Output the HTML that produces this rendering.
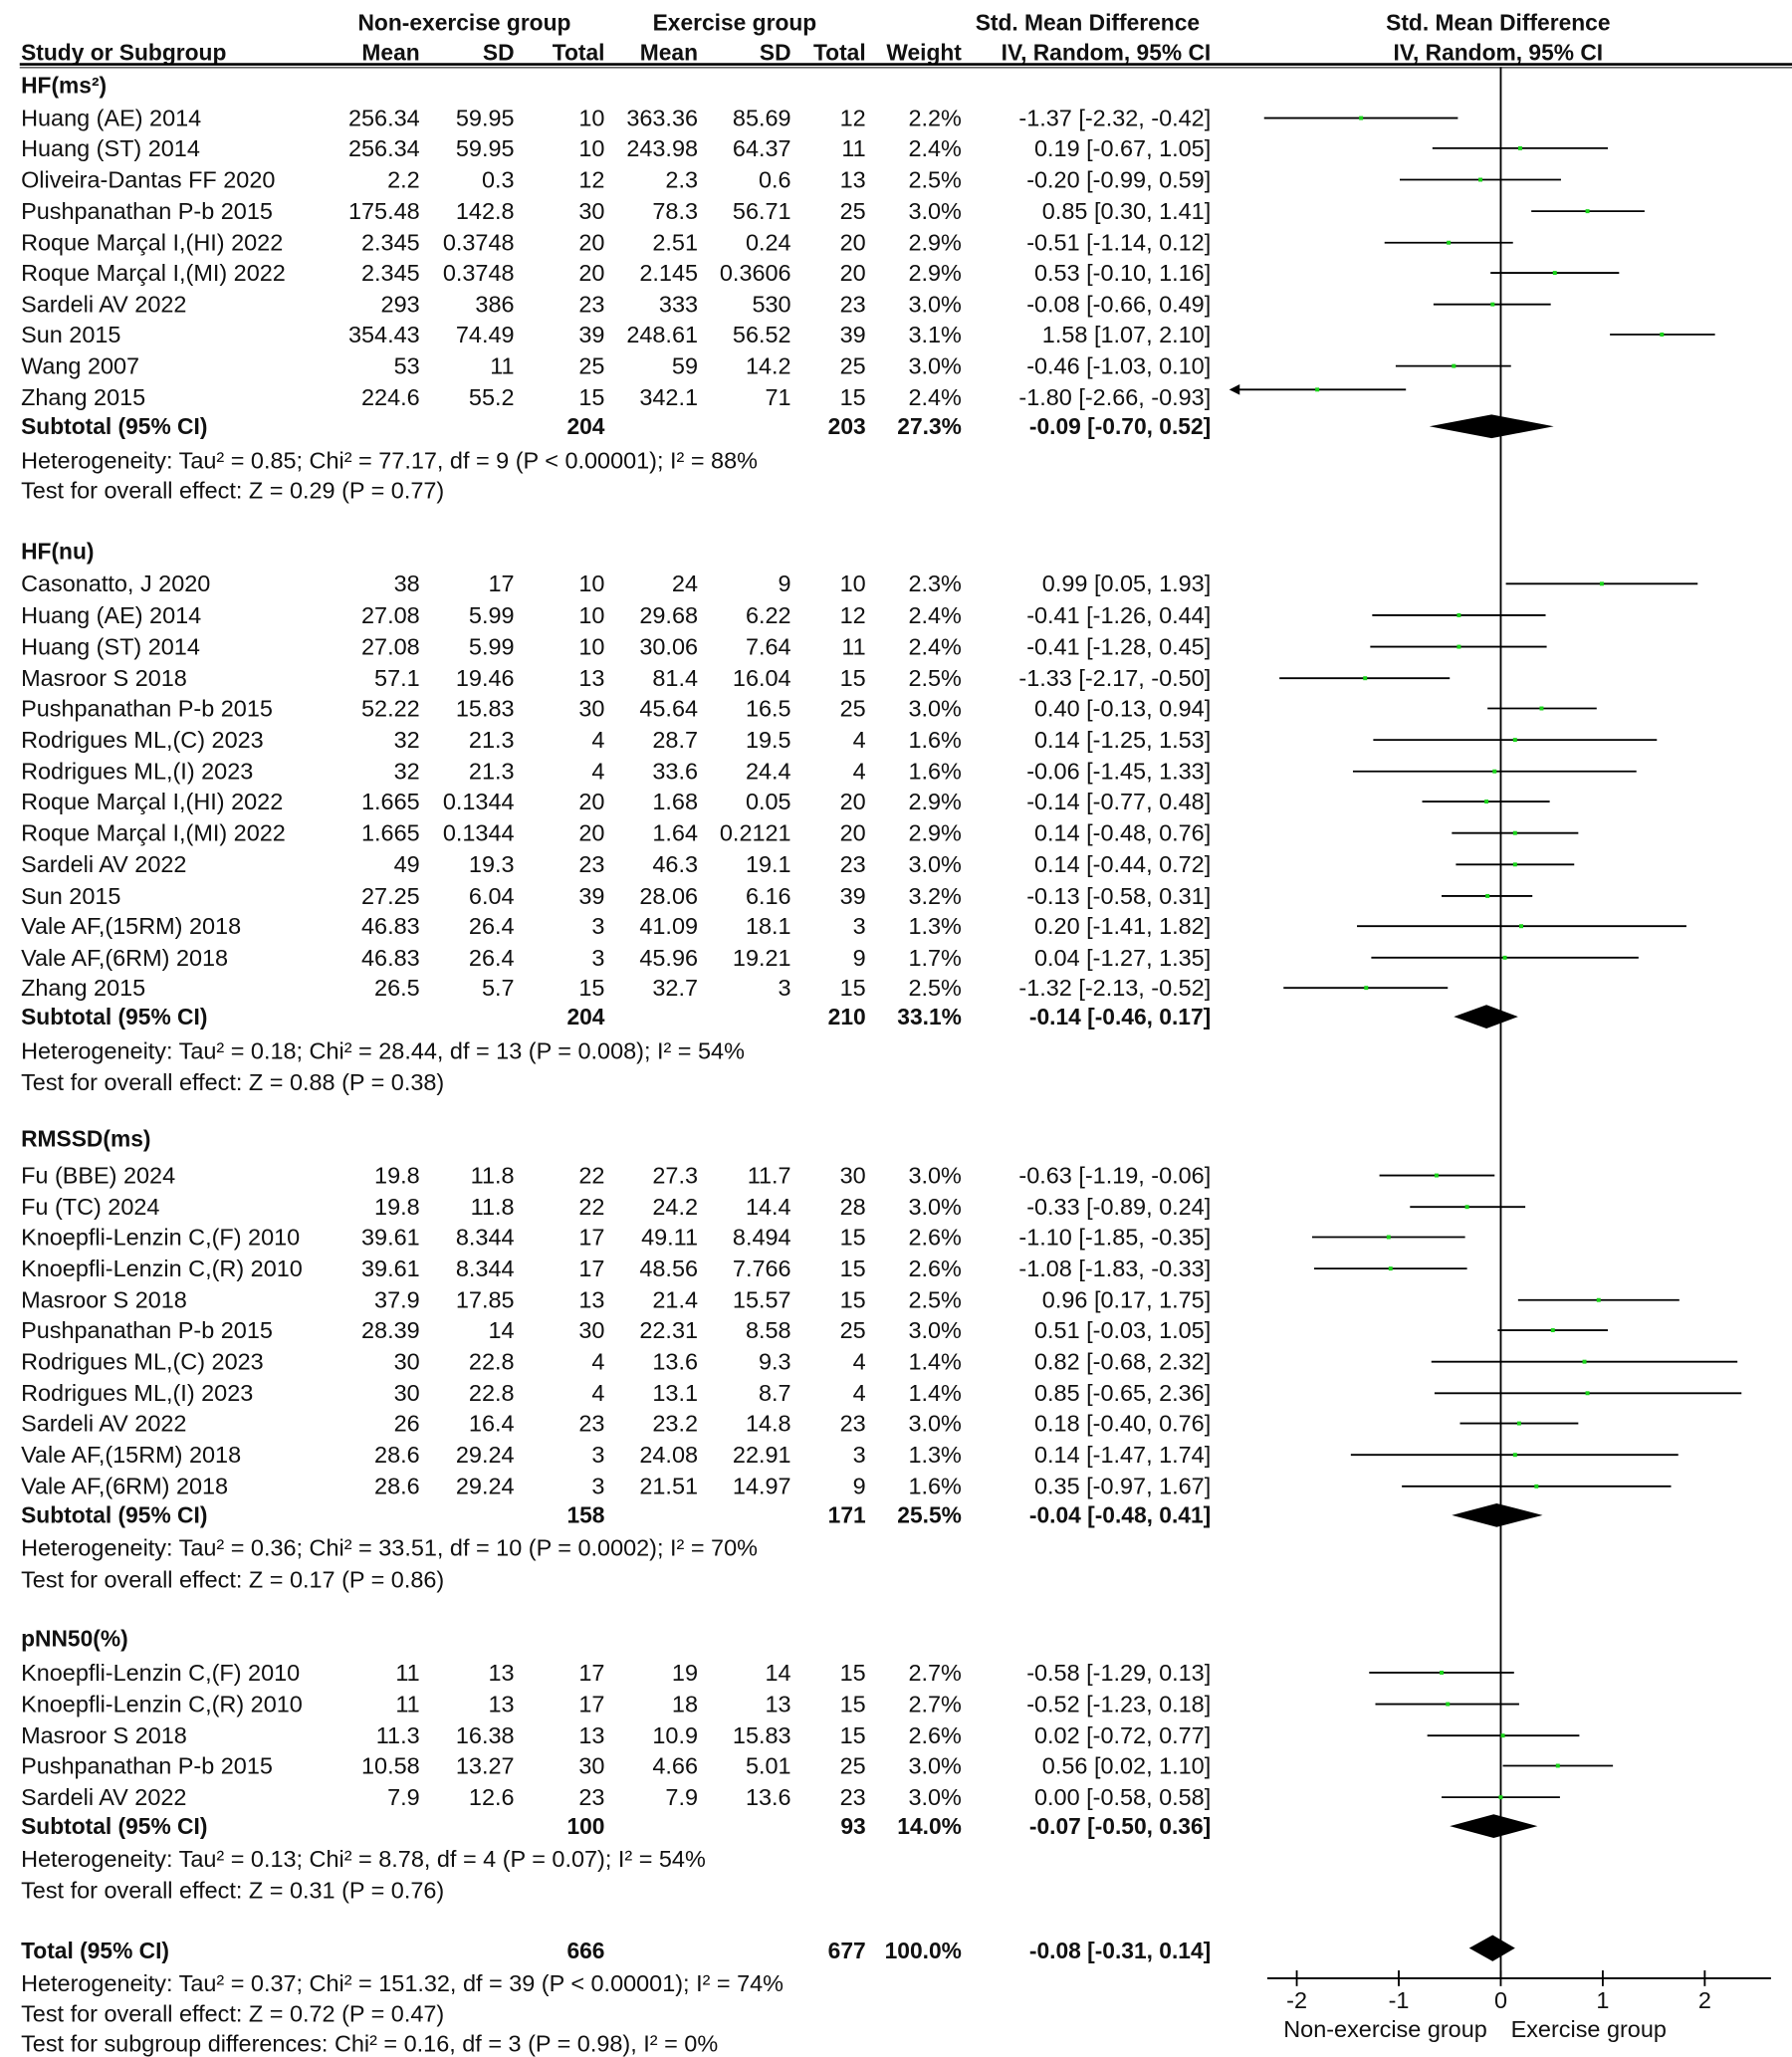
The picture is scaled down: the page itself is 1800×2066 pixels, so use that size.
<!DOCTYPE html>
<html><head><meta charset="utf-8"><style>
html,body{margin:0;padding:0;background:#fff;}
svg{display:block}
text{font-family:"Liberation Sans",Arial,sans-serif;font-size:17.8px;fill:#111}
.r{text-anchor:end}.c{text-anchor:middle}.b{font-weight:bold;font-size:17.3px}
line{stroke:#000;stroke-width:1.4}
.p{fill:#1bd41b}
</style></head><body>
<svg width="1800" height="2066" viewBox="0 0 1366 1568" preserveAspectRatio="none" xmlns="http://www.w3.org/2000/svg">
<!-- header -->
<g class="b">
<text class="c b" x="354" y="23">Non-exercise group</text>
<text class="c b" x="560" y="23">Exercise group</text>
<text class="c b" x="829" y="23">Std. Mean Difference</text>
<text class="c b" x="1142" y="23">Std. Mean Difference</text>
<text class="b" x="16" y="46">Study or Subgroup</text>
<text class="r b" x="320" y="46">Mean</text><text class="r b" x="392" y="46">SD</text><text class="r b" x="461" y="46">Total</text>
<text class="r b" x="532" y="46">Mean</text><text class="r b" x="603" y="46">SD</text><text class="r b" x="660" y="46">Total</text>
<text class="r b" x="733" y="46">Weight</text><text class="r b" x="923" y="46">IV, Random, 95% CI</text>
<text class="c b" x="1142" y="46">IV, Random, 95% CI</text>
</g>
<line x1="15" y1="49" x2="1366" y2="49" style="stroke-width:2"/>
<line x1="15" y1="51.5" x2="1366" y2="51.5" style="stroke-width:0.8"/>
<line x1="1144" y1="51" x2="1144" y2="1508"/>
<!-- axis -->
<line x1="966" y1="1508" x2="1350" y2="1508"/>
<line x1="988.5" y1="1502" x2="988.5" y2="1514"/><line x1="1066.25" y1="1502" x2="1066.25" y2="1514"/><line x1="1144" y1="1502" x2="1144" y2="1514"/><line x1="1221.75" y1="1502" x2="1221.75" y2="1514"/><line x1="1299.5" y1="1502" x2="1299.5" y2="1514"/>
<text class="c" x="988.5" y="1531">-2</text><text class="c" x="1066.25" y="1531">-1</text><text class="c" x="1144" y="1531">0</text><text class="c" x="1221.75" y="1531">1</text><text class="c" x="1299.5" y="1531">2</text>
<text class="c" x="1056" y="1553">Non-exercise group</text><text class="c" x="1211" y="1553">Exercise group</text>

<!-- HF ms -->
<text class="b" x="16" y="71">HF(ms²)</text>
<g>
<text x="16" y="96">Huang (AE) 2014</text><text class="r" x="320" y="96">256.34</text><text class="r" x="392" y="96">59.95</text><text class="r" x="461" y="96">10</text><text class="r" x="532" y="96">363.36</text><text class="r" x="603" y="96">85.69</text><text class="r" x="660" y="96">12</text><text class="r" x="733" y="96">2.2%</text><text class="r" x="923" y="96">-1.37 [-2.32, -0.42]</text>
<text x="16" y="119">Huang (ST) 2014</text><text class="r" x="320" y="119">256.34</text><text class="r" x="392" y="119">59.95</text><text class="r" x="461" y="119">10</text><text class="r" x="532" y="119">243.98</text><text class="r" x="603" y="119">64.37</text><text class="r" x="660" y="119">11</text><text class="r" x="733" y="119">2.4%</text><text class="r" x="923" y="119">0.19 [-0.67, 1.05]</text>
<text x="16" y="143">Oliveira-Dantas FF 2020</text><text class="r" x="320" y="143">2.2</text><text class="r" x="392" y="143">0.3</text><text class="r" x="461" y="143">12</text><text class="r" x="532" y="143">2.3</text><text class="r" x="603" y="143">0.6</text><text class="r" x="660" y="143">13</text><text class="r" x="733" y="143">2.5%</text><text class="r" x="923" y="143">-0.20 [-0.99, 0.59]</text>
<text x="16" y="167">Pushpanathan P-b 2015</text><text class="r" x="320" y="167">175.48</text><text class="r" x="392" y="167">142.8</text><text class="r" x="461" y="167">30</text><text class="r" x="532" y="167">78.3</text><text class="r" x="603" y="167">56.71</text><text class="r" x="660" y="167">25</text><text class="r" x="733" y="167">3.0%</text><text class="r" x="923" y="167">0.85 [0.30, 1.41]</text>
<text x="16" y="191">Roque Marçal I,(HI) 2022</text><text class="r" x="320" y="191">2.345</text><text class="r" x="392" y="191">0.3748</text><text class="r" x="461" y="191">20</text><text class="r" x="532" y="191">2.51</text><text class="r" x="603" y="191">0.24</text><text class="r" x="660" y="191">20</text><text class="r" x="733" y="191">2.9%</text><text class="r" x="923" y="191">-0.51 [-1.14, 0.12]</text>
<text x="16" y="214">Roque Marçal I,(MI) 2022</text><text class="r" x="320" y="214">2.345</text><text class="r" x="392" y="214">0.3748</text><text class="r" x="461" y="214">20</text><text class="r" x="532" y="214">2.145</text><text class="r" x="603" y="214">0.3606</text><text class="r" x="660" y="214">20</text><text class="r" x="733" y="214">2.9%</text><text class="r" x="923" y="214">0.53 [-0.10, 1.16]</text>
<text x="16" y="238">Sardeli AV 2022</text><text class="r" x="320" y="238">293</text><text class="r" x="392" y="238">386</text><text class="r" x="461" y="238">23</text><text class="r" x="532" y="238">333</text><text class="r" x="603" y="238">530</text><text class="r" x="660" y="238">23</text><text class="r" x="733" y="238">3.0%</text><text class="r" x="923" y="238">-0.08 [-0.66, 0.49]</text>
<text x="16" y="261">Sun 2015</text><text class="r" x="320" y="261">354.43</text><text class="r" x="392" y="261">74.49</text><text class="r" x="461" y="261">39</text><text class="r" x="532" y="261">248.61</text><text class="r" x="603" y="261">56.52</text><text class="r" x="660" y="261">39</text><text class="r" x="733" y="261">3.1%</text><text class="r" x="923" y="261">1.58 [1.07, 2.10]</text>
<text x="16" y="285">Wang 2007</text><text class="r" x="320" y="285">53</text><text class="r" x="392" y="285">11</text><text class="r" x="461" y="285">25</text><text class="r" x="532" y="285">59</text><text class="r" x="603" y="285">14.2</text><text class="r" x="660" y="285">25</text><text class="r" x="733" y="285">3.0%</text><text class="r" x="923" y="285">-0.46 [-1.03, 0.10]</text>
<text x="16" y="309">Zhang 2015</text><text class="r" x="320" y="309">224.6</text><text class="r" x="392" y="309">55.2</text><text class="r" x="461" y="309">15</text><text class="r" x="532" y="309">342.1</text><text class="r" x="603" y="309">71</text><text class="r" x="660" y="309">15</text><text class="r" x="733" y="309">2.4%</text><text class="r" x="923" y="309">-1.80 [-2.66, -0.93]</text>
<text class="b" x="16" y="331">Subtotal (95% CI)</text><text class="r b" x="461" y="331">204</text><text class="r b" x="660" y="331">203</text><text class="r b" x="733" y="331">27.3%</text><text class="r b" x="923" y="331">-0.09 [-0.70, 0.52]</text>
<text x="16" y="357">Heterogeneity: Tau² = 0.85; Chi² = 77.17, df = 9 (P &lt; 0.00001); I² = 88%</text>
<text x="16" y="380">Test for overall effect: Z = 0.29 (P = 0.77)</text>
<line x1="963.6" y1="90" x2="1111.3" y2="90"/><rect class="p" x="1036" y="88.5" width="3" height="3"/>
<line x1="1091.9" y1="113" x2="1225.6" y2="113"/><rect class="p" x="1157.3" y="111.5" width="3" height="3"/>
<line x1="1067" y1="137" x2="1189.9" y2="137"/><rect class="p" x="1127" y="135.5" width="3" height="3"/>
<line x1="1167.3" y1="161" x2="1253.6" y2="161"/><rect class="p" x="1208.6" y="159.5" width="3" height="3"/>
<line x1="1055.4" y1="185" x2="1153.3" y2="185"/><rect class="p" x="1102.8" y="183.5" width="3" height="3"/>
<line x1="1136.2" y1="208" x2="1234.2" y2="208"/><rect class="p" x="1183.7" y="206.5" width="3" height="3"/>
<line x1="1092.7" y1="232" x2="1182.1" y2="232"/><rect class="p" x="1136.3" y="230.5" width="3" height="3"/>
<line x1="1227.2" y1="255" x2="1307.3" y2="255"/><rect class="p" x="1265.3" y="253.5" width="3" height="3"/>
<line x1="1063.9" y1="279" x2="1151.8" y2="279"/><rect class="p" x="1106.7" y="277.5" width="3" height="3"/>
<line x1="942" y1="297" x2="1071.7" y2="297"/><polygon points="937,297 945,293 945,301" fill="#000"/><rect class="p" x="1002.6" y="295.5" width="3" height="3"/>
<polygon points="1089.6,325 1137,316 1184.4,325 1137,334" fill="#000"/>
</g>

<!-- HF nu -->
<text class="b" x="16" y="426">HF(nu)</text>
<g>
<text x="16" y="451">Casonatto, J 2020</text><text class="r" x="320" y="451">38</text><text class="r" x="392" y="451">17</text><text class="r" x="461" y="451">10</text><text class="r" x="532" y="451">24</text><text class="r" x="603" y="451">9</text><text class="r" x="660" y="451">10</text><text class="r" x="733" y="451">2.3%</text><text class="r" x="923" y="451">0.99 [0.05, 1.93]</text>
<text x="16" y="475">Huang (AE) 2014</text><text class="r" x="320" y="475">27.08</text><text class="r" x="392" y="475">5.99</text><text class="r" x="461" y="475">10</text><text class="r" x="532" y="475">29.68</text><text class="r" x="603" y="475">6.22</text><text class="r" x="660" y="475">12</text><text class="r" x="733" y="475">2.4%</text><text class="r" x="923" y="475">-0.41 [-1.26, 0.44]</text>
<text x="16" y="499">Huang (ST) 2014</text><text class="r" x="320" y="499">27.08</text><text class="r" x="392" y="499">5.99</text><text class="r" x="461" y="499">10</text><text class="r" x="532" y="499">30.06</text><text class="r" x="603" y="499">7.64</text><text class="r" x="660" y="499">11</text><text class="r" x="733" y="499">2.4%</text><text class="r" x="923" y="499">-0.41 [-1.28, 0.45]</text>
<text x="16" y="523">Masroor S 2018</text><text class="r" x="320" y="523">57.1</text><text class="r" x="392" y="523">19.46</text><text class="r" x="461" y="523">13</text><text class="r" x="532" y="523">81.4</text><text class="r" x="603" y="523">16.04</text><text class="r" x="660" y="523">15</text><text class="r" x="733" y="523">2.5%</text><text class="r" x="923" y="523">-1.33 [-2.17, -0.50]</text>
<text x="16" y="546">Pushpanathan P-b 2015</text><text class="r" x="320" y="546">52.22</text><text class="r" x="392" y="546">15.83</text><text class="r" x="461" y="546">30</text><text class="r" x="532" y="546">45.64</text><text class="r" x="603" y="546">16.5</text><text class="r" x="660" y="546">25</text><text class="r" x="733" y="546">3.0%</text><text class="r" x="923" y="546">0.40 [-0.13, 0.94]</text>
<text x="16" y="570">Rodrigues ML,(C) 2023</text><text class="r" x="320" y="570">32</text><text class="r" x="392" y="570">21.3</text><text class="r" x="461" y="570">4</text><text class="r" x="532" y="570">28.7</text><text class="r" x="603" y="570">19.5</text><text class="r" x="660" y="570">4</text><text class="r" x="733" y="570">1.6%</text><text class="r" x="923" y="570">0.14 [-1.25, 1.53]</text>
<text x="16" y="594">Rodrigues ML,(I) 2023</text><text class="r" x="320" y="594">32</text><text class="r" x="392" y="594">21.3</text><text class="r" x="461" y="594">4</text><text class="r" x="532" y="594">33.6</text><text class="r" x="603" y="594">24.4</text><text class="r" x="660" y="594">4</text><text class="r" x="733" y="594">1.6%</text><text class="r" x="923" y="594">-0.06 [-1.45, 1.33]</text>
<text x="16" y="617">Roque Marçal I,(HI) 2022</text><text class="r" x="320" y="617">1.665</text><text class="r" x="392" y="617">0.1344</text><text class="r" x="461" y="617">20</text><text class="r" x="532" y="617">1.68</text><text class="r" x="603" y="617">0.05</text><text class="r" x="660" y="617">20</text><text class="r" x="733" y="617">2.9%</text><text class="r" x="923" y="617">-0.14 [-0.77, 0.48]</text>
<text x="16" y="641">Roque Marçal I,(MI) 2022</text><text class="r" x="320" y="641">1.665</text><text class="r" x="392" y="641">0.1344</text><text class="r" x="461" y="641">20</text><text class="r" x="532" y="641">1.64</text><text class="r" x="603" y="641">0.2121</text><text class="r" x="660" y="641">20</text><text class="r" x="733" y="641">2.9%</text><text class="r" x="923" y="641">0.14 [-0.48, 0.76]</text>
<text x="16" y="665">Sardeli AV 2022</text><text class="r" x="320" y="665">49</text><text class="r" x="392" y="665">19.3</text><text class="r" x="461" y="665">23</text><text class="r" x="532" y="665">46.3</text><text class="r" x="603" y="665">19.1</text><text class="r" x="660" y="665">23</text><text class="r" x="733" y="665">3.0%</text><text class="r" x="923" y="665">0.14 [-0.44, 0.72]</text>
<text x="16" y="689">Sun 2015</text><text class="r" x="320" y="689">27.25</text><text class="r" x="392" y="689">6.04</text><text class="r" x="461" y="689">39</text><text class="r" x="532" y="689">28.06</text><text class="r" x="603" y="689">6.16</text><text class="r" x="660" y="689">39</text><text class="r" x="733" y="689">3.2%</text><text class="r" x="923" y="689">-0.13 [-0.58, 0.31]</text>
<text x="16" y="712">Vale AF,(15RM) 2018</text><text class="r" x="320" y="712">46.83</text><text class="r" x="392" y="712">26.4</text><text class="r" x="461" y="712">3</text><text class="r" x="532" y="712">41.09</text><text class="r" x="603" y="712">18.1</text><text class="r" x="660" y="712">3</text><text class="r" x="733" y="712">1.3%</text><text class="r" x="923" y="712">0.20 [-1.41, 1.82]</text>
<text x="16" y="736">Vale AF,(6RM) 2018</text><text class="r" x="320" y="736">46.83</text><text class="r" x="392" y="736">26.4</text><text class="r" x="461" y="736">3</text><text class="r" x="532" y="736">45.96</text><text class="r" x="603" y="736">19.21</text><text class="r" x="660" y="736">9</text><text class="r" x="733" y="736">1.7%</text><text class="r" x="923" y="736">0.04 [-1.27, 1.35]</text>
<text x="16" y="759">Zhang 2015</text><text class="r" x="320" y="759">26.5</text><text class="r" x="392" y="759">5.7</text><text class="r" x="461" y="759">15</text><text class="r" x="532" y="759">32.7</text><text class="r" x="603" y="759">3</text><text class="r" x="660" y="759">15</text><text class="r" x="733" y="759">2.5%</text><text class="r" x="923" y="759">-1.32 [-2.13, -0.52]</text>
<text class="b" x="16" y="781">Subtotal (95% CI)</text><text class="r b" x="461" y="781">204</text><text class="r b" x="660" y="781">210</text><text class="r b" x="733" y="781">33.1%</text><text class="r b" x="923" y="781">-0.14 [-0.46, 0.17]</text>
<text x="16" y="807">Heterogeneity: Tau² = 0.18; Chi² = 28.44, df = 13 (P = 0.008); I² = 54%</text>
<text x="16" y="831">Test for overall effect: Z = 0.88 (P = 0.38)</text>
<line x1="1147.9" y1="445" x2="1294.1" y2="445"/><rect class="p" x="1219.5" y="443.5" width="3" height="3"/>
<line x1="1046" y1="469" x2="1178.2" y2="469"/><rect class="p" x="1110.6" y="467.5" width="3" height="3"/>
<line x1="1044.5" y1="493" x2="1179" y2="493"/><rect class="p" x="1110.6" y="491.5" width="3" height="3"/>
<line x1="975.3" y1="517" x2="1105.1" y2="517"/><rect class="p" x="1039.1" y="515.5" width="3" height="3"/>
<line x1="1133.9" y1="540" x2="1217.1" y2="540"/><rect class="p" x="1173.6" y="538.5" width="3" height="3"/>
<line x1="1046.8" y1="564" x2="1263" y2="564"/><rect class="p" x="1153.4" y="562.5" width="3" height="3"/>
<line x1="1031.3" y1="588" x2="1247.4" y2="588"/><rect class="p" x="1137.8" y="586.5" width="3" height="3"/>
<line x1="1084.1" y1="611" x2="1181.3" y2="611"/><rect class="p" x="1131.6" y="609.5" width="3" height="3"/>
<line x1="1106.7" y1="635" x2="1203.1" y2="635"/><rect class="p" x="1153.4" y="633.5" width="3" height="3"/>
<line x1="1109.8" y1="659" x2="1200" y2="659"/><rect class="p" x="1153.4" y="657.5" width="3" height="3"/>
<line x1="1098.9" y1="683" x2="1168.1" y2="683"/><rect class="p" x="1132.4" y="681.5" width="3" height="3"/>
<line x1="1034.4" y1="706" x2="1285.5" y2="706"/><rect class="p" x="1158.1" y="704.5" width="3" height="3"/>
<line x1="1045.3" y1="730" x2="1249" y2="730"/><rect class="p" x="1145.6" y="728.5" width="3" height="3"/>
<line x1="978.4" y1="753" x2="1103.6" y2="753"/><rect class="p" x="1039.9" y="751.5" width="3" height="3"/>
<polygon points="1108.2,775 1133.1,766 1157.2,775 1133.1,784" fill="#000"/>
</g>

<!-- RMSSD -->
<text class="b" x="16" y="874">RMSSD(ms)</text>
<g>
<text x="16" y="902">Fu (BBE) 2024</text><text class="r" x="320" y="902">19.8</text><text class="r" x="392" y="902">11.8</text><text class="r" x="461" y="902">22</text><text class="r" x="532" y="902">27.3</text><text class="r" x="603" y="902">11.7</text><text class="r" x="660" y="902">30</text><text class="r" x="733" y="902">3.0%</text><text class="r" x="923" y="902">-0.63 [-1.19, -0.06]</text>
<text x="16" y="926">Fu (TC) 2024</text><text class="r" x="320" y="926">19.8</text><text class="r" x="392" y="926">11.8</text><text class="r" x="461" y="926">22</text><text class="r" x="532" y="926">24.2</text><text class="r" x="603" y="926">14.4</text><text class="r" x="660" y="926">28</text><text class="r" x="733" y="926">3.0%</text><text class="r" x="923" y="926">-0.33 [-0.89, 0.24]</text>
<text x="16" y="949">Knoepfli-Lenzin C,(F) 2010</text><text class="r" x="320" y="949">39.61</text><text class="r" x="392" y="949">8.344</text><text class="r" x="461" y="949">17</text><text class="r" x="532" y="949">49.11</text><text class="r" x="603" y="949">8.494</text><text class="r" x="660" y="949">15</text><text class="r" x="733" y="949">2.6%</text><text class="r" x="923" y="949">-1.10 [-1.85, -0.35]</text>
<text x="16" y="973">Knoepfli-Lenzin C,(R) 2010</text><text class="r" x="320" y="973">39.61</text><text class="r" x="392" y="973">8.344</text><text class="r" x="461" y="973">17</text><text class="r" x="532" y="973">48.56</text><text class="r" x="603" y="973">7.766</text><text class="r" x="660" y="973">15</text><text class="r" x="733" y="973">2.6%</text><text class="r" x="923" y="973">-1.08 [-1.83, -0.33]</text>
<text x="16" y="997">Masroor S 2018</text><text class="r" x="320" y="997">37.9</text><text class="r" x="392" y="997">17.85</text><text class="r" x="461" y="997">13</text><text class="r" x="532" y="997">21.4</text><text class="r" x="603" y="997">15.57</text><text class="r" x="660" y="997">15</text><text class="r" x="733" y="997">2.5%</text><text class="r" x="923" y="997">0.96 [0.17, 1.75]</text>
<text x="16" y="1020">Pushpanathan P-b 2015</text><text class="r" x="320" y="1020">28.39</text><text class="r" x="392" y="1020">14</text><text class="r" x="461" y="1020">30</text><text class="r" x="532" y="1020">22.31</text><text class="r" x="603" y="1020">8.58</text><text class="r" x="660" y="1020">25</text><text class="r" x="733" y="1020">3.0%</text><text class="r" x="923" y="1020">0.51 [-0.03, 1.05]</text>
<text x="16" y="1044">Rodrigues ML,(C) 2023</text><text class="r" x="320" y="1044">30</text><text class="r" x="392" y="1044">22.8</text><text class="r" x="461" y="1044">4</text><text class="r" x="532" y="1044">13.6</text><text class="r" x="603" y="1044">9.3</text><text class="r" x="660" y="1044">4</text><text class="r" x="733" y="1044">1.4%</text><text class="r" x="923" y="1044">0.82 [-0.68, 2.32]</text>
<text x="16" y="1068">Rodrigues ML,(I) 2023</text><text class="r" x="320" y="1068">30</text><text class="r" x="392" y="1068">22.8</text><text class="r" x="461" y="1068">4</text><text class="r" x="532" y="1068">13.1</text><text class="r" x="603" y="1068">8.7</text><text class="r" x="660" y="1068">4</text><text class="r" x="733" y="1068">1.4%</text><text class="r" x="923" y="1068">0.85 [-0.65, 2.36]</text>
<text x="16" y="1091">Sardeli AV 2022</text><text class="r" x="320" y="1091">26</text><text class="r" x="392" y="1091">16.4</text><text class="r" x="461" y="1091">23</text><text class="r" x="532" y="1091">23.2</text><text class="r" x="603" y="1091">14.8</text><text class="r" x="660" y="1091">23</text><text class="r" x="733" y="1091">3.0%</text><text class="r" x="923" y="1091">0.18 [-0.40, 0.76]</text>
<text x="16" y="1115">Vale AF,(15RM) 2018</text><text class="r" x="320" y="1115">28.6</text><text class="r" x="392" y="1115">29.24</text><text class="r" x="461" y="1115">3</text><text class="r" x="532" y="1115">24.08</text><text class="r" x="603" y="1115">22.91</text><text class="r" x="660" y="1115">3</text><text class="r" x="733" y="1115">1.3%</text><text class="r" x="923" y="1115">0.14 [-1.47, 1.74]</text>
<text x="16" y="1139">Vale AF,(6RM) 2018</text><text class="r" x="320" y="1139">28.6</text><text class="r" x="392" y="1139">29.24</text><text class="r" x="461" y="1139">3</text><text class="r" x="532" y="1139">21.51</text><text class="r" x="603" y="1139">14.97</text><text class="r" x="660" y="1139">9</text><text class="r" x="733" y="1139">1.6%</text><text class="r" x="923" y="1139">0.35 [-0.97, 1.67]</text>
<text class="b" x="16" y="1161">Subtotal (95% CI)</text><text class="r b" x="461" y="1161">158</text><text class="r b" x="660" y="1161">171</text><text class="r b" x="733" y="1161">25.5%</text><text class="r b" x="923" y="1161">-0.04 [-0.48, 0.41]</text>
<text x="16" y="1186">Heterogeneity: Tau² = 0.36; Chi² = 33.51, df = 10 (P = 0.0002); I² = 70%</text>
<text x="16" y="1210">Test for overall effect: Z = 0.17 (P = 0.86)</text>
<line x1="1051.5" y1="896" x2="1139.3" y2="896"/><rect class="p" x="1093.5" y="894.5" width="3" height="3"/>
<line x1="1074.8" y1="920" x2="1162.7" y2="920"/><rect class="p" x="1116.8" y="918.5" width="3" height="3"/>
<line x1="1000.2" y1="943" x2="1116.8" y2="943"/><rect class="p" x="1057" y="941.5" width="3" height="3"/>
<line x1="1001.7" y1="967" x2="1118.3" y2="967"/><rect class="p" x="1058.5" y="965.5" width="3" height="3"/>
<line x1="1157.2" y1="991" x2="1280.1" y2="991"/><rect class="p" x="1217.1" y="989.5" width="3" height="3"/>
<line x1="1141.7" y1="1014" x2="1225.6" y2="1014"/><rect class="p" x="1182.2" y="1012.5" width="3" height="3"/>
<line x1="1091.1" y1="1038" x2="1324.4" y2="1038"/><rect class="p" x="1206.3" y="1036.5" width="3" height="3"/>
<line x1="1093.5" y1="1062" x2="1327.5" y2="1062"/><rect class="p" x="1208.6" y="1060.5" width="3" height="3"/>
<line x1="1112.9" y1="1085" x2="1203.1" y2="1085"/><rect class="p" x="1156.5" y="1083.5" width="3" height="3"/>
<line x1="1029.7" y1="1109" x2="1279.3" y2="1109"/><rect class="p" x="1153.4" y="1107.5" width="3" height="3"/>
<line x1="1068.6" y1="1133" x2="1273.8" y2="1133"/><rect class="p" x="1169.7" y="1131.5" width="3" height="3"/>
<polygon points="1106.7,1155 1140.9,1146 1175.9,1155 1140.9,1164" fill="#000"/>
</g>

<!-- pNN50 -->
<text class="b" x="16" y="1255">pNN50(%)</text>
<g>
<text x="16" y="1281">Knoepfli-Lenzin C,(F) 2010</text><text class="r" x="320" y="1281">11</text><text class="r" x="392" y="1281">13</text><text class="r" x="461" y="1281">17</text><text class="r" x="532" y="1281">19</text><text class="r" x="603" y="1281">14</text><text class="r" x="660" y="1281">15</text><text class="r" x="733" y="1281">2.7%</text><text class="r" x="923" y="1281">-0.58 [-1.29, 0.13]</text>
<text x="16" y="1305">Knoepfli-Lenzin C,(R) 2010</text><text class="r" x="320" y="1305">11</text><text class="r" x="392" y="1305">13</text><text class="r" x="461" y="1305">17</text><text class="r" x="532" y="1305">18</text><text class="r" x="603" y="1305">13</text><text class="r" x="660" y="1305">15</text><text class="r" x="733" y="1305">2.7%</text><text class="r" x="923" y="1305">-0.52 [-1.23, 0.18]</text>
<text x="16" y="1329">Masroor S 2018</text><text class="r" x="320" y="1329">11.3</text><text class="r" x="392" y="1329">16.38</text><text class="r" x="461" y="1329">13</text><text class="r" x="532" y="1329">10.9</text><text class="r" x="603" y="1329">15.83</text><text class="r" x="660" y="1329">15</text><text class="r" x="733" y="1329">2.6%</text><text class="r" x="923" y="1329">0.02 [-0.72, 0.77]</text>
<text x="16" y="1352">Pushpanathan P-b 2015</text><text class="r" x="320" y="1352">10.58</text><text class="r" x="392" y="1352">13.27</text><text class="r" x="461" y="1352">30</text><text class="r" x="532" y="1352">4.66</text><text class="r" x="603" y="1352">5.01</text><text class="r" x="660" y="1352">25</text><text class="r" x="733" y="1352">3.0%</text><text class="r" x="923" y="1352">0.56 [0.02, 1.10]</text>
<text x="16" y="1376">Sardeli AV 2022</text><text class="r" x="320" y="1376">7.9</text><text class="r" x="392" y="1376">12.6</text><text class="r" x="461" y="1376">23</text><text class="r" x="532" y="1376">7.9</text><text class="r" x="603" y="1376">13.6</text><text class="r" x="660" y="1376">23</text><text class="r" x="733" y="1376">3.0%</text><text class="r" x="923" y="1376">0.00 [-0.58, 0.58]</text>
<text class="b" x="16" y="1398">Subtotal (95% CI)</text><text class="r b" x="461" y="1398">100</text><text class="r b" x="660" y="1398">93</text><text class="r b" x="733" y="1398">14.0%</text><text class="r b" x="923" y="1398">-0.07 [-0.50, 0.36]</text>
<text x="16" y="1423">Heterogeneity: Tau² = 0.13; Chi² = 8.78, df = 4 (P = 0.07); I² = 54%</text>
<text x="16" y="1447">Test for overall effect: Z = 0.31 (P = 0.76)</text>
<line x1="1043.7" y1="1275" x2="1154.1" y2="1275"/><rect class="p" x="1097.4" y="1273.5" width="3" height="3"/>
<line x1="1048.4" y1="1299" x2="1158" y2="1299"/><rect class="p" x="1102.1" y="1297.5" width="3" height="3"/>
<line x1="1088" y1="1323" x2="1203.9" y2="1323"/><rect class="p" x="1144.1" y="1321.5" width="3" height="3"/>
<line x1="1145.6" y1="1346" x2="1229.5" y2="1346"/><rect class="p" x="1186" y="1344.5" width="3" height="3"/>
<line x1="1098.9" y1="1370" x2="1189.1" y2="1370"/><rect class="p" x="1142.5" y="1368.5" width="3" height="3"/>
<polygon points="1105.1,1392 1138.6,1383 1172,1392 1138.6,1401" fill="#000"/>
</g>

<!-- total -->
<text class="b" x="16" y="1493">Total (95% CI)</text><text class="r b" x="461" y="1493">666</text><text class="r b" x="660" y="1493">677</text><text class="r b" x="733" y="1493">100.0%</text><text class="r b" x="923" y="1493">-0.08 [-0.31, 0.14]</text>
<text x="16" y="1518">Heterogeneity: Tau² = 0.37; Chi² = 151.32, df = 39 (P &lt; 0.00001); I² = 74%</text>
<text x="16" y="1541">Test for overall effect: Z = 0.72 (P = 0.47)</text>
<text x="16" y="1564">Test for subgroup differences: Chi² = 0.16, df = 3 (P = 0.98), I² = 0%</text>
<polygon points="1119.9,1485 1137.8,1475 1154.9,1485 1137.8,1495" fill="#000"/>
</svg>
</body></html>
